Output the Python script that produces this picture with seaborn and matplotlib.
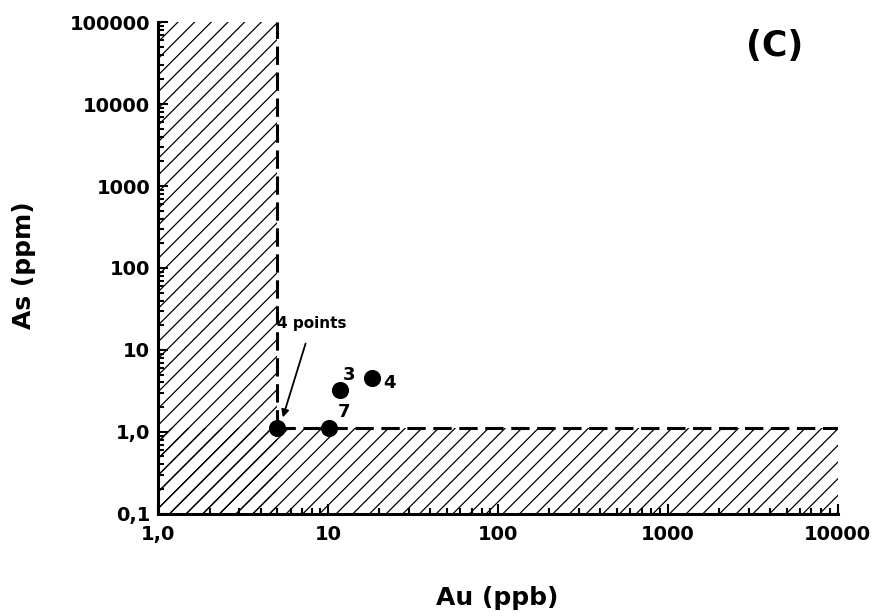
import numpy as np
import pandas as pd
import seaborn as sns
import matplotlib.pyplot as plt

# ----------------------------
# Dati (C)
# ----------------------------
au_ppb = [5.0, 10.1, 11.8, 18.1]
as_ppm = [1.1, 1.1, 3.25, 4.56]
etichette = ["", "7", "3", "4"]

soglia_au = 5.0      # limite verticale (ppb)
soglia_as = 1.1      # limite orizzontale (ppm)

x_ticks = [1, 10, 100, 1000, 10000]
x_tick_labels = ["1,0", "10", "100", "1000", "10000"]
y_ticks = [0.1, 1, 10, 100, 1000, 10000, 100000]
y_tick_labels = ["0,1", "1,0", "10", "100", "1000", "10000", "100000"]

df = pd.DataFrame({"Au": au_ppb, "As": as_ppm, "label": etichette})

sns.set_theme(style="ticks", rc={
    "text.color": "black", "axes.labelcolor": "black",
    "xtick.color": "black", "ytick.color": "black", "axes.edgecolor": "black",
})
plt.rcParams["font.family"] = ["DejaVu Sans"]
plt.rcParams["font.weight"] = "bold"
plt.rcParams["hatch.linewidth"] = 0.9

fig = plt.figure(figsize=(8.8, 6.16), dpi=100)
ax = fig.add_axes([0.18, 0.166, 0.772, 0.798])
ax.set_xscale("log")
ax.set_yscale("log")
ax.set_xlim(x_ticks[0], x_ticks[-1])
ax.set_ylim(y_ticks[0], y_ticks[-1])

# zone tratteggiate (fondo)
ax.axvspan(x_ticks[0], soglia_au, facecolor="none", edgecolor="black",
           hatch="//", lw=0, zorder=1)
ax.axhspan(y_ticks[0], soglia_as, facecolor="none", edgecolor="black",
           hatch="//", lw=0, zorder=1)

# limiti tratteggiati
ax.plot([soglia_au, soglia_au], [soglia_as, y_ticks[-1]], ls=(0, (6, 2.5)),
        color="black", lw=2.2, zorder=2)
ax.plot([soglia_au, x_ticks[-1]], [soglia_as, soglia_as], ls=(0, (6, 2.5)),
        color="black", lw=2.2, zorder=2)

sns.scatterplot(data=df, x="Au", y="As", color="black", s=130,
                edgecolor="black", legend=False, ax=ax, zorder=3)

offsets = {"7": (6, 8), "3": (2, 7), "4": (8, -7)}
for _, r in df.iterrows():
    if r["label"]:
        ax.annotate(r["label"], xy=(r["Au"], r["As"]), xytext=offsets[r["label"]],
                    textcoords="offset points", fontsize=13, fontweight="bold")

ax.annotate("4 points", xy=(5.4, 1.5), xytext=(8.0, 21), ha="center", va="center",
            fontsize=11, fontweight="bold",
            arrowprops=dict(arrowstyle="-|>", color="black", lw=1.3,
                            shrinkA=7, shrinkB=0))

ax.set_xticks(x_ticks)
ax.set_xticklabels(x_tick_labels)
ax.set_yticks(y_ticks)
ax.set_yticklabels(y_tick_labels)
ax.tick_params(axis="both", which="both", direction="in", width=1.5, labelsize=14)
ax.tick_params(axis="both", which="major", length=7)
ax.tick_params(axis="both", which="minor", length=4)
ax.tick_params(axis="x", pad=8)
ax.tick_params(axis="y", pad=6)
for lab in ax.get_xticklabels() + ax.get_yticklabels():
    lab.set_fontweight("bold")

sns.despine(ax=ax)
ax.spines["left"].set_linewidth(2.2)
ax.spines["bottom"].set_linewidth(2.2)
ax.set_xlabel("")
ax.set_ylabel("")

fig.text(0.565, 0.03, "Au (ppb)", ha="center", va="center", fontsize=18, fontweight="bold")
fig.text(0.027, 0.57, "As (ppm)", ha="center", va="center", rotation=90,
         fontsize=18, fontweight="bold")
fig.text(0.88, 0.925, "(C)", ha="center", va="center", fontsize=25, fontweight="bold")

fig.savefig("out.png", dpi=100)
